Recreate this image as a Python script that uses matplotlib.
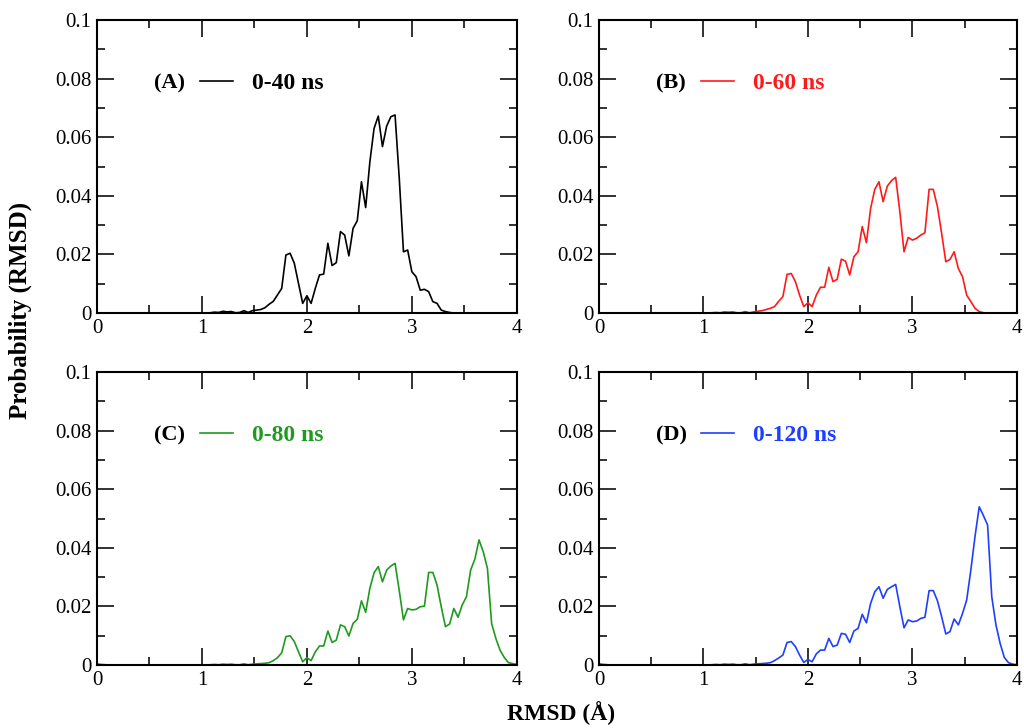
import numpy as np
import matplotlib
matplotlib.use("Agg")
import matplotlib.pyplot as plt

plt.rcParams['font.family'] = ['Liberation Serif', 'DejaVu Serif']

# RMSD bins (0.04 A wide), 0..4 A
rmsd = np.round(np.arange(101) * 0.04, 2)

z27 = [0.0] * 27

prob_40 = z27 + [
    0.0001, 0.0003, 0.0002, 0.0006, 0.0004, 0.0005, 0.0001, 0.0002, 0.0008, 0.0002,
    0.0008, 0.0010, 0.0012, 0.0018,
    0.0030, 0.0040, 0.0062, 0.0084, 0.0198, 0.0204, 0.0170, 0.0101, 0.0033, 0.0059,
    0.0033, 0.0084, 0.0130, 0.0133, 0.0238, 0.0162, 0.0172, 0.0278, 0.0266, 0.0195,
    0.0289, 0.0315, 0.0448, 0.0360, 0.0516, 0.0630, 0.0672, 0.0568, 0.0638, 0.0670,
    0.0676, 0.0460, 0.0209, 0.0215, 0.0141, 0.0124, 0.0078, 0.0081, 0.0073, 0.0039,
    0.0033, 0.0010, 0.0005, 0.0002,
    0, 0, 0, 0, 0, 0, 0, 0, 0, 0, 0, 0, 0, 0, 0, 0]

prob_60 = z27 + [
    0.0001, 0.0002, 0.0001, 0.0004, 0.0003, 0.0004, 0.0001, 0.0001, 0.0005, 0.0001,
    0.0004, 0.0006, 0.0008, 0.0012,
    0.0016, 0.0022, 0.0040, 0.0056, 0.0132, 0.0135, 0.0107, 0.0061, 0.0022, 0.0035,
    0.0022, 0.0061, 0.0088, 0.0088, 0.0156, 0.0107, 0.0115, 0.0184, 0.0177, 0.0130,
    0.0192, 0.0209, 0.0295, 0.0240, 0.0357, 0.0422, 0.0448, 0.0380, 0.0433, 0.0452,
    0.0463, 0.0346, 0.0209, 0.0258, 0.0249, 0.0255, 0.0266, 0.0274, 0.0422, 0.0422,
    0.0363, 0.0272, 0.0175, 0.0183, 0.0209, 0.0152, 0.0124, 0.0061, 0.0039, 0.0016,
    0.0005, 0.0001,
    0, 0, 0, 0, 0, 0, 0, 0]

prob_80 = [0.0004, 0.0002, 0.0001] + [0.0] * 24 + [
    0.0001, 0.0002, 0.0001, 0.0003, 0.0002, 0.0003, 0.0001, 0.0001, 0.0004, 0.0001,
    0.0003, 0.0004, 0.0005, 0.0006,
    0.0008, 0.0015, 0.0025, 0.0042, 0.0097, 0.0100, 0.0080, 0.0045, 0.0011, 0.0025,
    0.0015, 0.0045, 0.0065, 0.0065, 0.0116, 0.0077, 0.0085, 0.0137, 0.0131, 0.0099,
    0.0142, 0.0156, 0.0219, 0.0180, 0.0262, 0.0315, 0.0336, 0.0284, 0.0324, 0.0338,
    0.0347, 0.0254, 0.0154, 0.0193, 0.0188, 0.0190, 0.0199, 0.0201, 0.0316, 0.0316,
    0.0273, 0.0199, 0.0131, 0.0140, 0.0193, 0.0163, 0.0205, 0.0233, 0.0324, 0.0361,
    0.0427, 0.0387, 0.0330, 0.0142, 0.0091, 0.0051, 0.0026, 0.0008, 0.0005, 0.0002]

prob_120 = [0.0004, 0.0002, 0.0001] + [0.0] * 24 + [
    0.0001, 0.0002, 0.0001, 0.0003, 0.0002, 0.0003, 0.0001, 0.0001, 0.0004, 0.0001,
    0.0003, 0.0004, 0.0005, 0.0006,
    0.0008, 0.0015, 0.0024, 0.0034, 0.0077, 0.0080, 0.0063, 0.0034, 0.0009, 0.0019,
    0.0011, 0.0038, 0.0051, 0.0051, 0.0091, 0.0063, 0.0068, 0.0108, 0.0105, 0.0077,
    0.0116, 0.0125, 0.0173, 0.0144, 0.0210, 0.0250, 0.0267, 0.0228, 0.0258, 0.0267,
    0.0275, 0.0199, 0.0127, 0.0154, 0.0148, 0.0150, 0.0159, 0.0163, 0.0254, 0.0254,
    0.0219, 0.0165, 0.0106, 0.0114, 0.0157, 0.0137, 0.0176, 0.0222, 0.0325, 0.0440,
    0.0540, 0.0510, 0.0478, 0.0233, 0.0137, 0.0074, 0.0026, 0.0008, 0.0003, 0.0001]

series = [prob_40, prob_60, prob_80, prob_120]
tags = ['(A)', '(B)', '(C)', '(D)']
windows = ['0-40 ns', '0-60 ns', '0-80 ns', '0-120 ns']
colors = ['black', '#ff1a1a', '#1f9a1f', '#1f3fff']
ytick_vals = [0, 0.02, 0.04, 0.06, 0.08, 0.1]
ytick_txt = ['0', '0.02', '0.04', '0.06', '0.08', '0.1']

fig = plt.figure(figsize=(10.24, 7.28), dpi=100)
# axes boxes in figure fractions: left, bottom, width, height
boxes = [(0.0947, 0.570, 0.410, 0.4025),
         (0.585, 0.570, 0.408, 0.4025),
         (0.0947, 0.0865, 0.410, 0.4025),
         (0.585, 0.0865, 0.408, 0.4025)]

for i in range(4):
    ax = fig.add_axes(boxes[i])
    ax.plot(rmsd, series[i], color=colors[i], lw=1.2, label=windows[i])
    ax.set_xlim(0, 4)
    ax.set_ylim(0, 0.1)
    ax.set_xticks([0, 1, 2, 3, 4])
    ax.set_xticks(np.arange(0.5, 4, 1.0), minor=True)
    ax.set_yticks(ytick_vals)
    ax.set_yticklabels(ytick_txt)
    ax.set_yticks(np.arange(0.01, 0.1, 0.02), minor=True)
    ax.tick_params(which='both', direction='in', top=True, right=True,
                   labelsize=15, color='#222222')
    ax.tick_params(which='major', length=12, width=1.3, pad=4)
    ax.tick_params(which='minor', length=6, width=1.3)
    for sp in ax.spines.values():
        sp.set_linewidth(1.5)
    ax.text(0.137, 0.785, tags[i], transform=ax.transAxes, fontsize=16,
            fontweight='bold', va='center', ha='left')
    ax.legend(loc='center left', bbox_to_anchor=(0.245, 0.785), frameon=False,
              borderpad=0, borderaxespad=0, handlelength=1.4, handletextpad=0.8,
              labelcolor=colors[i], prop={'weight': 'bold', 'size': 17})

fig.text(0.02, 0.574, 'Probability (RMSD)', rotation=90, fontsize=18,
         fontweight='bold', ha='center', va='center')
fig.text(0.548, 0.02, 'RMSD (Å)', fontsize=17, fontweight='bold',
         ha='center', va='center')

fig.savefig('out.png', dpi=100)
